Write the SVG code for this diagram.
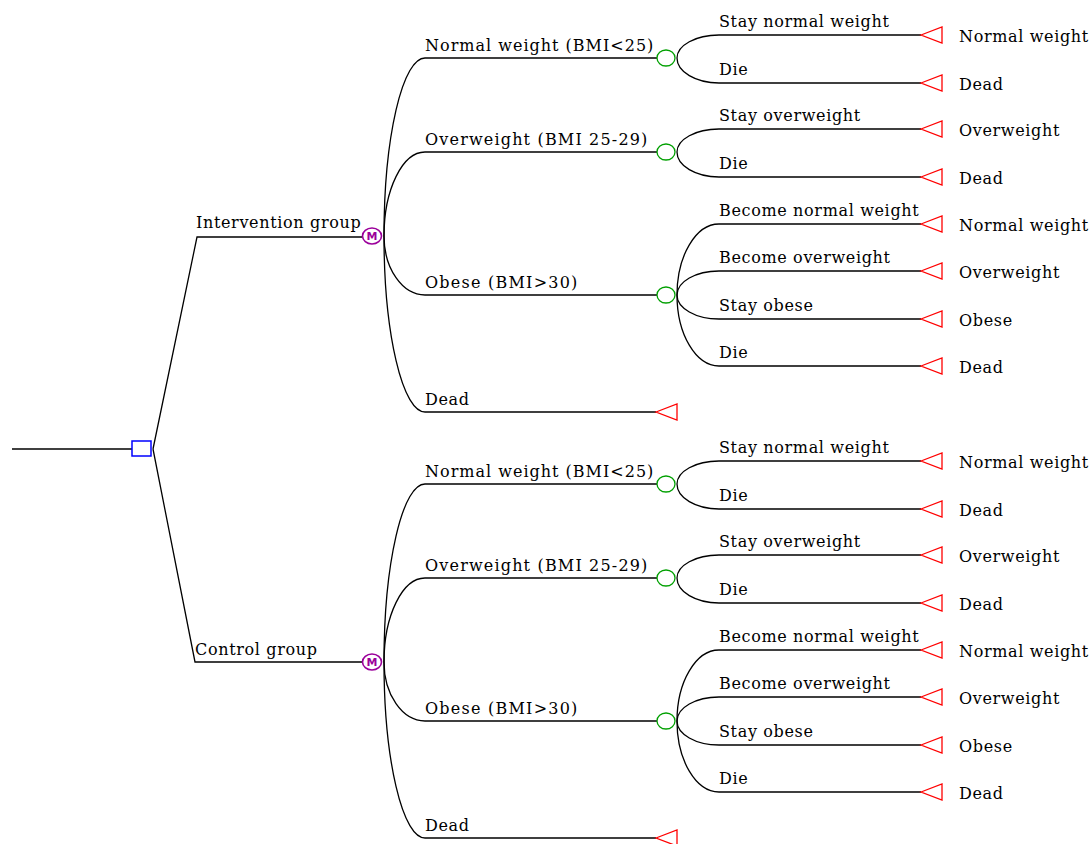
<svg xmlns="http://www.w3.org/2000/svg" width="1090" height="844" viewBox="0 0 1090 844">
<style>
.c{fill:none;stroke:#000;stroke-width:1.3}
.t{font-family:"DejaVu Serif","Liberation Serif",serif;font-size:16px;letter-spacing:0.65px;fill:#000}
.dec{fill:none;stroke:#0000ff;stroke-width:1.5}
.mk{fill:none;stroke:#9b009b;stroke-width:1.6}
.mt{font-family:"DejaVu Sans",sans-serif;font-size:11px;font-weight:bold;fill:#9b009b;text-anchor:middle}
.ch{fill:none;stroke:#00a000;stroke-width:1.3}
.tm{fill:none;stroke:#ff0000;stroke-width:1.3}
</style>
<rect width="1090" height="844" fill="#fff"/>
<g id="connectors">
<path class="c" d="M12,449 H132"/>
<path class="c" d="M153,449 L197,237 H362"/>
<path class="c" d="M153,449 L195,662 H362"/>
<path class="c" d="M384,236 A41,178 0 0 1 425,58 H657"/>
<path class="c" d="M384,236 A41,84 0 0 1 425,152 H657"/>
<path class="c" d="M384,236 A41,59 0 0 0 425,295 H657"/>
<path class="c" d="M384,236 A41,176 0 0 0 425,412 H656"/>
<path class="c" d="M677,58 A42,23 0 0 1 719,35 H921"/>
<path class="c" d="M677,58 A42,25 0 0 0 719,83 H921"/>
<path class="c" d="M677,152 A42,23 0 0 1 719,129 H921"/>
<path class="c" d="M677,152 A42,25 0 0 0 719,177 H921"/>
<path class="c" d="M677,295 A42,71 0 0 1 719,224 H921"/>
<path class="c" d="M677,295 A42,24 0 0 1 719,271 H921"/>
<path class="c" d="M677,295 A42,24 0 0 0 719,319 H921"/>
<path class="c" d="M677,295 A42,71 0 0 0 719,366 H921"/>
<path class="c" d="M384,662 A41,178 0 0 1 425,484 H657"/>
<path class="c" d="M384,662 A41,84 0 0 1 425,578 H657"/>
<path class="c" d="M384,662 A41,59 0 0 0 425,721 H657"/>
<path class="c" d="M384,662 A41,176 0 0 0 425,838 H656"/>
<path class="c" d="M677,484 A42,23 0 0 1 719,461 H921"/>
<path class="c" d="M677,484 A42,25 0 0 0 719,509 H921"/>
<path class="c" d="M677,578 A42,23 0 0 1 719,555 H921"/>
<path class="c" d="M677,578 A42,25 0 0 0 719,603 H921"/>
<path class="c" d="M677,721 A42,71 0 0 1 719,650 H921"/>
<path class="c" d="M677,721 A42,24 0 0 1 719,697 H921"/>
<path class="c" d="M677,721 A42,24 0 0 0 719,745 H921"/>
<path class="c" d="M677,721 A42,71 0 0 0 719,792 H921"/>
</g>
<g id="labels">
<text class="t" x="196" y="228">Intervention group</text>
<text class="t" x="195" y="655">Control group</text>
<text class="t" x="425" y="51" textLength="229">Normal weight (BMI&lt;25)</text>
<text class="t" x="425" y="145" textLength="223">Overweight (BMI 25-29)</text>
<text class="t" x="425" y="288" textLength="153">Obese (BMI&gt;30)</text>
<text class="t" x="425" y="405">Dead</text>
<text class="t" x="719" y="27">Stay normal weight</text>
<text class="t" x="719" y="75">Die</text>
<text class="t" x="719" y="121">Stay overweight</text>
<text class="t" x="719" y="169">Die</text>
<text class="t" x="719" y="216">Become normal weight</text>
<text class="t" x="719" y="263">Become overweight</text>
<text class="t" x="719" y="311">Stay obese</text>
<text class="t" x="719" y="358">Die</text>
<text class="t" x="425" y="477" textLength="229">Normal weight (BMI&lt;25)</text>
<text class="t" x="425" y="571" textLength="223">Overweight (BMI 25-29)</text>
<text class="t" x="425" y="714" textLength="153">Obese (BMI&gt;30)</text>
<text class="t" x="425" y="831">Dead</text>
<text class="t" x="719" y="453">Stay normal weight</text>
<text class="t" x="719" y="501">Die</text>
<text class="t" x="719" y="547">Stay overweight</text>
<text class="t" x="719" y="595">Die</text>
<text class="t" x="719" y="642">Become normal weight</text>
<text class="t" x="719" y="689">Become overweight</text>
<text class="t" x="719" y="737">Stay obese</text>
<text class="t" x="719" y="784">Die</text>
</g>
<g id="decision"><rect class="dec" x="132" y="441" width="19" height="15"/></g>
<g id="markov1"><ellipse class="mk" cx="372" cy="236" rx="9.5" ry="8"/><text class="mt" x="372" y="240">M</text></g>
<g id="markov2"><ellipse class="mk" cx="372" cy="662" rx="9.5" ry="8"/><text class="mt" x="372" y="666">M</text></g>
<g id="chance1"><ellipse class="ch" cx="666" cy="58" rx="9" ry="8"/></g>
<g id="chance2"><ellipse class="ch" cx="666" cy="152" rx="9" ry="8"/></g>
<g id="chance3"><ellipse class="ch" cx="666" cy="295" rx="9" ry="8"/></g>
<g id="chance4"><ellipse class="ch" cx="666" cy="484" rx="9" ry="8"/></g>
<g id="chance5"><ellipse class="ch" cx="666" cy="578" rx="9" ry="8"/></g>
<g id="chance6"><ellipse class="ch" cx="666" cy="721" rx="9" ry="8"/></g>
<g id="term-dead1"><polygon class="tm" points="656,412 677,404 677,420"/></g>
<g id="term-dead2"><polygon class="tm" points="656,838 677,830 677,846"/></g>
<g id="t1"><polygon class="tm" points="921,35 942,27 942,43"/><text class="t" x="959" y="42">Normal weight</text></g>
<g id="t2"><polygon class="tm" points="921,83 942,75 942,91"/><text class="t" x="959" y="90">Dead</text></g>
<g id="t3"><polygon class="tm" points="921,129 942,121 942,137"/><text class="t" x="959" y="136">Overweight</text></g>
<g id="t4"><polygon class="tm" points="921,177 942,169 942,185"/><text class="t" x="959" y="184">Dead</text></g>
<g id="t5"><polygon class="tm" points="921,224 942,216 942,232"/><text class="t" x="959" y="231">Normal weight</text></g>
<g id="t6"><polygon class="tm" points="921,271 942,263 942,279"/><text class="t" x="959" y="278">Overweight</text></g>
<g id="t7"><polygon class="tm" points="921,319 942,311 942,327"/><text class="t" x="959" y="326">Obese</text></g>
<g id="t8"><polygon class="tm" points="921,366 942,358 942,374"/><text class="t" x="959" y="373">Dead</text></g>
<g id="t9"><polygon class="tm" points="921,461 942,453 942,469"/><text class="t" x="959" y="468">Normal weight</text></g>
<g id="t10"><polygon class="tm" points="921,509 942,501 942,517"/><text class="t" x="959" y="516">Dead</text></g>
<g id="t11"><polygon class="tm" points="921,555 942,547 942,563"/><text class="t" x="959" y="562">Overweight</text></g>
<g id="t12"><polygon class="tm" points="921,603 942,595 942,611"/><text class="t" x="959" y="610">Dead</text></g>
<g id="t13"><polygon class="tm" points="921,650 942,642 942,658"/><text class="t" x="959" y="657">Normal weight</text></g>
<g id="t14"><polygon class="tm" points="921,697 942,689 942,705"/><text class="t" x="959" y="704">Overweight</text></g>
<g id="t15"><polygon class="tm" points="921,745 942,737 942,753"/><text class="t" x="959" y="752">Obese</text></g>
<g id="t16"><polygon class="tm" points="921,792 942,784 942,800"/><text class="t" x="959" y="799">Dead</text></g>
</svg>
